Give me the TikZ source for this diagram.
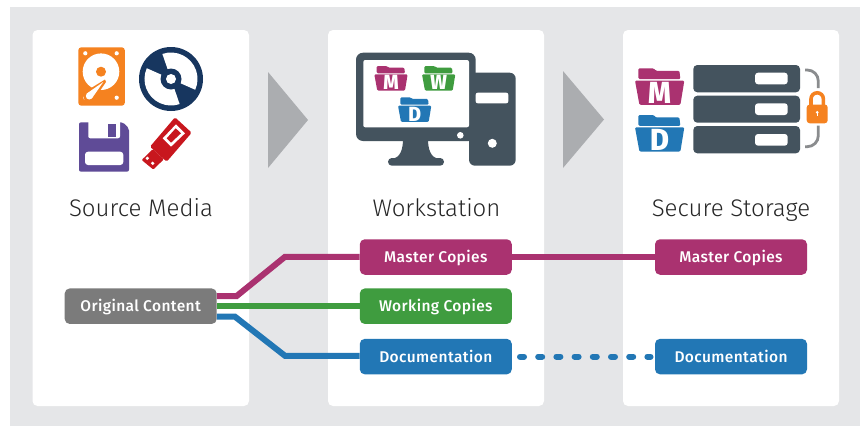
\documentclass[tikz,border=0pt]{standalone}
\usepackage{fontspec}
\setmainfont{Fira Sans}
\newfontfamily\titlefont{Fira Sans Light}
\newfontfamily\boxfont[LetterSpace=2.5]{Fira Sans Medium}
\newfontfamily\letterfont{Fira Sans}[BoldFont={Fira Sans ExtraBold}]
\definecolor{bggray}{HTML}{E5E6E8}
\definecolor{arrowgray}{HTML}{ABADB0}
\definecolor{slate}{HTML}{44535E}
\definecolor{mag}{HTML}{AA3270}
\definecolor{grn}{HTML}{3F9C3F}
\definecolor{blu}{HTML}{2277B5}
\definecolor{midgray}{HTML}{7B7B7B}
\definecolor{hdd}{HTML}{F58220}
\definecolor{navy}{HTML}{17365F}
\definecolor{purp}{HTML}{5F4B97}
\definecolor{usbred}{HTML}{C8171E}
\definecolor{brk}{HTML}{8A8C8E}
\tikzset{
  panel/.style={fill=white,rounded corners=5pt},
  bigarrow/.style={fill=arrowgray},
  titlelabel/.style={font=\titlefont\fontsize{24}{28}\selectfont,text=black!85,anchor=base},
  tagbox/.style={rounded corners=5pt,minimum width=152pt,minimum height=35.5pt,inner sep=0pt,text=white,
    text height=11.5pt,text depth=0pt,font=\boxfont\fontsize{15.5}{18}\selectfont},
  link/.style={line width=6pt},
}
\newcommand{\folder}[6]{%
  \begin{scope}[shift={(#1,#2)},x=#3pt,y=-#3pt]
    \fill[#4,rounded corners=1.2pt] (7,22) -- (7,0) -- (38,0) -- (42,5) -- (90,5) -- (92,22) -- cycle;
    \fill[#4,rounded corners=1.2pt] (0,25) -- (100,25) -- (92,74) -- (9,74) -- cycle;
    \node[text=white,inner sep=0pt,font=\letterfont\bfseries\fontsize{#6}{#6}\selectfont] at (50,50) {\scalebox{.95}[1]{#5}};
  \end{scope}}
\begin{document}
\begin{tikzpicture}[x=1pt,y=-1pt]
\useasboundingbox (0,0) rectangle (862,426);
\fill[bggray] (9.5,7) rectangle (860,426);
\fill[panel] (32.5,30) rectangle (249,406);
\fill[panel] (328,30) rectangle (544,406);
\fill[panel] (623,30) rectangle (839,406);
\fill[bigarrow] (268,72) -- (308,120) -- (268,168) -- cycle;
\fill[bigarrow] (563,71) -- (604,119.5) -- (563,168) -- cycle;

% hard disk
\fill[hdd,rounded corners=3pt] (78.3,47.3) rectangle (124.8,105.7);
\fill[white] (101,71.7) circle[radius=18.3pt];
\fill[hdd] (101,71.7) circle[radius=5pt];
\foreach \px/\py in {85.3/53.3,116.7/53.3,85.3/97.7,116.7/97.7}
  \fill[white] (\px,\py) circle[radius=2.1pt];
\fill[hdd] (89.3,96) circle[radius=6pt];
\fill[hdd] (85,91.8) -- (105,79.5) -- (106,82) -- (93.5,100.2) -- cycle;
\fill[white] (89.3,96) circle[radius=3.5pt];
\fill[white] (86.8,93.5) -- (103.3,82) -- (91.8,98.5) -- cycle;

% disc
\fill[navy] (171,79) circle[radius=32pt];
\fill[white] (171,79) -- +(109:26.5pt) arc[start angle=109,end angle=-24,radius=26.5pt] -- cycle;
\fill[white] (171,79) -- +(156:26.5pt) arc[start angle=156,end angle=289,radius=26.5pt] -- cycle;
\fill[navy] (171,79) circle[radius=10.5pt];
\fill[white] (171,79) circle[radius=5pt];

% floppy
\fill[purp,rounded corners=2pt] (79,122.3) -- (123,122.3) -- (129,128.5) -- (129,171.7) -- (79,171.7) -- cycle;
\fill[white,rounded corners=2pt] (88.3,118) rectangle (120,138.3);
\fill[white] (88,120) rectangle (120,122.3);
\fill[purp] (108.3,124.3) rectangle (115.7,136.7);
\fill[white,rounded corners=3pt] (85,151.7) rectangle (123.3,165);

% usb stick
\fill[usbred,rounded corners=1.5pt] (175,117.3) -- (191.7,132.7) -- (166.7,161.7) -- (150,146.7) -- cycle;
\fill[usbred,rounded corners=1pt] (152.8,149.1) -- (163.8,159.3) -- (153.3,169.5) -- (141.7,160) -- cycle;
\fill[white] (176,124.3) -- (185,133.3) -- (171,146.7) -- (162.7,138.3) -- cycle;
\fill[usbred] (175.7,128.3) -- (181,133.3) -- (171,142.7) -- (166.7,138.3) -- cycle;
\fill[white] (147.3,158.3) circle[radius=1.8pt];
\fill[white] (152.7,163.3) circle[radius=1.8pt];

% workstation
\fill[slate,rounded corners=6pt] (469,72.7) rectangle (515.7,165.7);
\fill[slate,rounded corners=7pt] (356,52.7) rectangle (475.7,141);
\fill[white,rounded corners=2pt] (363.3,60) rectangle (469,127.3);
\fill[slate] (403,139) -- (428,139) .. controls (428,150) and (431,157) .. (438,159) -- (393,159) .. controls (400,157) and (403,150) .. (403,139) -- cycle;
\fill[slate,rounded corners=3.8pt] (388,158) rectangle (444,165.7);
\fill[white] (460.3,135.3) circle[radius=3.3pt];
\fill[white,rounded corners=2pt] (475.7,92.7) rectangle (508.3,103.3);
\fill[white] (492.3,143.3) circle[radius=4.5pt];
\folder{374.3}{66}{.3333}{mag}{M}{20.5}
\folder{422}{66}{.3333}{grn}{W}{20.5}
\folder{398}{97.3}{.3333}{blu}{D}{20.5}

% storage
\folder{635}{68.3}{.4933}{mag}{M}{30.5}
\folder{635}{115}{.4933}{blu}{D}{30.5}
\foreach \ty/\by/\sy/\ey in {65/92.3/72.7/84.3,95.7/122.7/103.3/115,126/153.3/134/145.7}{
  \fill[slate,rounded corners=4pt] (693.3,\ty) rectangle (800,\by);
  \fill[white,rounded corners=3pt] (755,\sy) rectangle (787.7,\ey);
}
\draw[brk,line width=2.8pt,rounded corners=11pt] (805,70) -- (818.3,70) -- (818.3,88);
\draw[brk,line width=2.8pt,rounded corners=11pt] (818.3,125.5) -- (818.3,146.7) -- (805,146.7);
\draw[hdd,line width=3.6pt] (811,105.5) -- (811,99) arc[start angle=180,end angle=0,radius=6.2pt] -- (823.4,105.5);
\fill[hdd,rounded corners=3pt] (806.7,104.5) rectangle (827.7,123.3);
\fill[white] (817.2,112.3) circle[radius=1.5pt];
\fill[white] (816.5,112.3) rectangle (817.9,116);

% titles
\node[titlelabel] (t1) at (141,216) {Source Media};
\node[titlelabel] (t2) at (436.5,216) {Workstation};
\node[titlelabel] (t3) at (731,216) {Secure Storage};

% boxes
\node[tagbox,fill=midgray] (orig) at (140.7,306.2) {Original Content};
\node[tagbox,fill=mag] (m1) at (435.8,257) {Master Copies};
\node[tagbox,fill=grn] (w1) at (435.8,306.2) {Working Copies};
\node[tagbox,fill=blu] (d1) at (435.8,356.6) {Documentation};
\node[tagbox,fill=mag] (m2) at (731,257) {Master Copies};
\node[tagbox,fill=blu] (d2) at (731,356.6) {Documentation};

% connectors
\coordinate (ma) at (236.7,296);
\coordinate (mb) at (285,256.8);
\coordinate (ba) at (235,316.7);
\coordinate (bb) at (285,355.8);
\draw[link,mag] ([yshift=10.2pt]orig.east) -- (ma) -- (mb) -- (m1.west |- mb);
\draw[link,grn] (orig.east) -- (w1.west);
\draw[link,blu] ([yshift=-10.5pt]orig.east) -- (ba) -- (bb) -- (d1.west |- bb);
\draw[link,mag] (m1.east) -- (m2.west);
\draw[link,blu,line cap=round,dash pattern=on 4pt off 14.2pt,shorten <=8pt,shorten >=4.3pt] (d1.east) -- (d2.west);
\end{tikzpicture}
\end{document}
